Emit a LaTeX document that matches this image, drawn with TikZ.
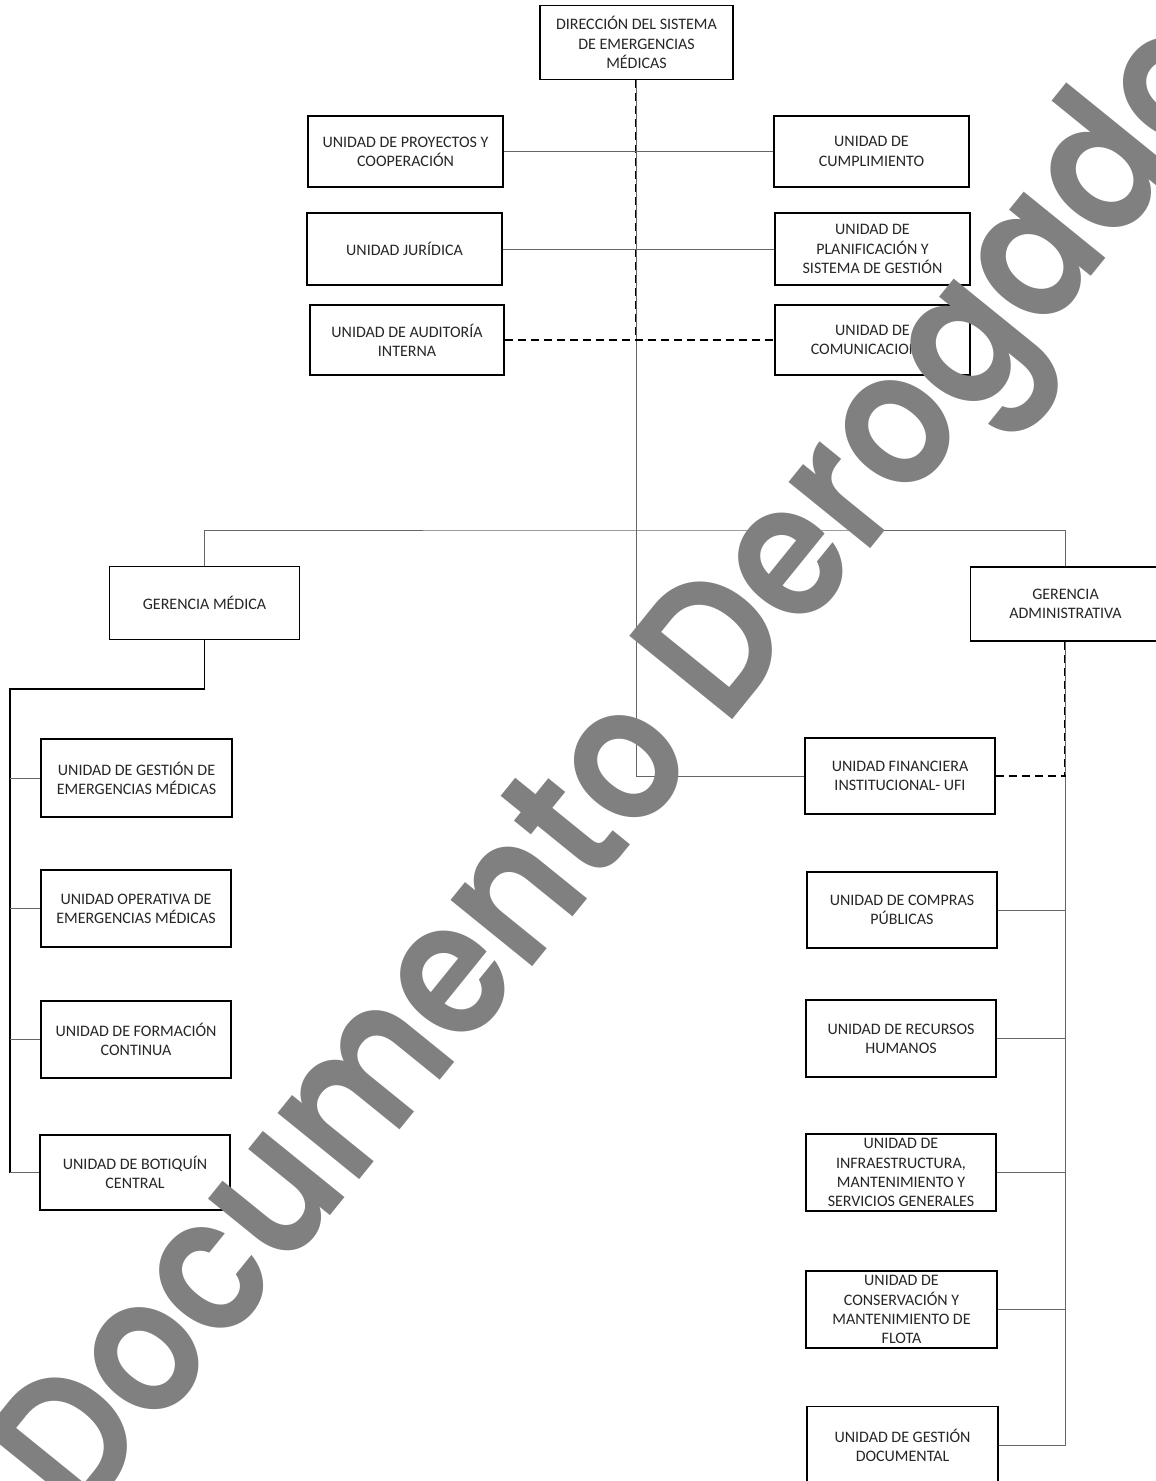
\documentclass[tikz,border=0pt]{standalone}
\usepackage{fontspec}
\setmainfont{Carlito}
\newfontfamily\marca{Poppins SemiBold}[FakeStretch=0.87]
\begin{document}
\begin{tikzpicture}[x=0.02cm, y=-0.02cm,
  unidad/.style={draw, line width=0.9pt, fill=white, align=center, inner sep=1pt,
    font=\fontsize{9.1}{10.9}\selectfont, text=black!85},
  conector/.style={draw=black!60, line width=0.5pt},
  punteado/.style={draw=black, line width=0.9pt, dash pattern=on 0.16cm off 0.1cm},
  tronco/.style={draw=black, line width=1pt}]
\useasboundingbox (0,0) rectangle (1156,1481);
\clip (0,0) rectangle (1156,1481);

% direccion y unidades de apoyo
\node[unidad, minimum width=3.86cm, minimum height=1.48cm] (dir) at (636.5,42.5) {DIRECCIÓN DEL SISTEMA\\DE EMERGENCIAS\\MÉDICAS};
\node[unidad, minimum width=3.9cm, minimum height=1.42cm] (proy) at (405.5,151.5) {UNIDAD DE PROYECTOS Y\\COOPERACIÓN};
\node[unidad, minimum width=3.9cm, minimum height=1.42cm] (cumpl) at (871.5,151.5) {UNIDAD DE\\CUMPLIMIENTO};
\node[unidad, minimum width=3.9cm, minimum height=1.44cm] (jur) at (404.5,249) {UNIDAD JURÍDICA};
\node[unidad, minimum width=3.9cm, minimum height=1.44cm] (plan) at (872.5,249) {UNIDAD DE\\PLANIFICACIÓN Y\\SISTEMA DE GESTIÓN};
\node[unidad, minimum width=3.88cm, minimum height=1.4cm] (aud) at (407,340) {UNIDAD DE AUDITORÍA\\INTERNA};
\node[unidad, minimum width=3.9cm, minimum height=1.4cm] (com) at (872.5,340) {UNIDAD DE\\COMUNICACIONES};

% gerencias
\node[unidad, minimum width=3.8cm, minimum height=1.46cm] (gm) at (204.5,603) {GERENCIA MÉDICA};
\node[unidad, minimum width=3.8cm, minimum height=1.48cm] (ga) at (1065.5,604) {GERENCIA\\ADMINISTRATIVA};

% gerencia medica
\node[unidad, minimum width=3.82cm, minimum height=1.56cm] (gem) at (136.5,778) {UNIDAD DE GESTIÓN DE\\EMERGENCIAS MÉDICAS};
\node[unidad, minimum width=3.8cm, minimum height=1.54cm] (oper) at (136,908.5) {UNIDAD OPERATIVA DE\\EMERGENCIAS MÉDICAS};
\node[unidad, minimum width=3.8cm, minimum height=1.54cm] (form) at (136,1039.5) {UNIDAD DE FORMACIÓN\\CONTINUA};
\node[unidad, minimum width=3.8cm, minimum height=1.5cm] (botiq) at (135,1172.5) {UNIDAD DE BOTIQUÍN\\CENTRAL};

% gerencia administrativa
\node[unidad, minimum width=3.8cm, minimum height=1.52cm] (ufi) at (900,776) {UNIDAD FINANCIERA\\INSTITUCIONAL- UFI};
\node[unidad, minimum width=3.8cm, minimum height=1.52cm] (compras) at (902,910) {UNIDAD DE COMPRAS\\PÚBLICAS};
\node[unidad, minimum width=3.8cm, minimum height=1.54cm] (rrhh) at (901,1038.5) {UNIDAD DE RECURSOS\\HUMANOS};
\node[unidad, minimum width=3.8cm, minimum height=1.54cm] (infra) at (901,1172.5) {UNIDAD DE\\INFRAESTRUCTURA,\\MANTENIMIENTO Y\\SERVICIOS GENERALES};
\node[unidad, minimum width=3.82cm, minimum height=1.54cm] (flota) at (901.5,1309.5) {UNIDAD DE\\CONSERVACIÓN Y\\MANTENIMIENTO DE\\FLOTA};
\node[unidad, minimum width=3.82cm, minimum height=1.54cm] (doc) at (902.5,1445) {UNIDAD DE GESTIÓN\\DOCUMENTAL};

% lineas
\coordinate (barra) at (636.5,530);
\coordinate (codo) at (10,689);
\draw[conector] (dir.south) |- (ufi.west);
\draw[punteado] ([xshift=-0.02cm]dir.south) -- ([xshift=-0.02cm]dir.south |- aud.east);
\draw[conector] (proy) -- (cumpl);
\draw[conector] (jur) -- (plan);
\draw[punteado] (aud) -- (com);
\draw[conector] (gm.north) |- (barra) -| (ga.north);
\draw[tronco] (gm.south) |- (codo) -- (codo |- botiq.west);
\foreach \u in {gem,oper,form,botiq}
  \draw[conector] (\u.west) -- (codo |- \u.west);
\draw[conector] (ga.south) -- (ga.south |- doc.east);
\foreach \u in {compras,rrhh,infra,flota,doc}
  \draw[conector] (\u.east) -- (ga.south |- \u.east);
\draw[punteado] (ufi.east) -- (ga.south |- ufi.east);
\draw[punteado] ([xshift=-0.02cm]ga.south) -- ([xshift=-0.02cm]ga.south |- ufi.east);

% marca de agua
\node[rotate=51, anchor=base west, text=gray, inner sep=0pt, font=\marca\fontsize{108}{108}\selectfont] (marca) at (80,1525) {Documento Derogado};
\end{tikzpicture}
\end{document}
